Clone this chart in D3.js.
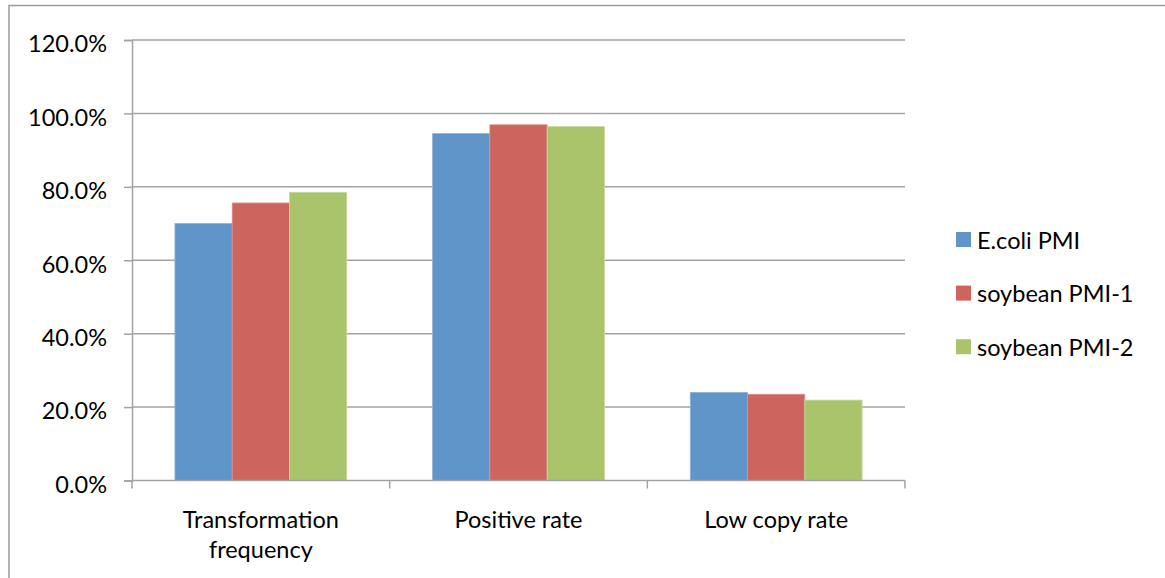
<!DOCTYPE html>
<html>
<head>
<meta charset="utf-8">
<script src="https://cdn.jsdelivr.net/npm/d3@7"></script>
<style>
  html, body { margin: 0; padding: 0; background: #fff; }
  svg { display: block; }
  text { font-family: Lato, "Open Sans", sans-serif; fill: #000; }
</style>
</head>
<body>
<svg id="chart" width="1165" height="578"></svg>
<script>
// Categories along the x axis (first one wraps onto two lines)
const categories = ["Transformation frequency", "Positive rate", "Low copy rate"];
const categoryLines = [["Transformation", "frequency"], ["Positive rate"], ["Low copy rate"]];

// Series names and their values (fractions, shown as percentages)
const seriesNames = ["E.coli PMI", "soybean PMI-1", "soybean PMI-2"];
const ecoliPMI = [0.700, 0.945, 0.240];
const soybeanPMI1 = [0.756, 0.969, 0.235];
const soybeanPMI2 = [0.785, 0.964, 0.219];
const seriesValues = [ecoliPMI, soybeanPMI1, soybeanPMI2];

// Y axis ticks
const yTicks = [0, 0.2, 0.4, 0.6, 0.8, 1.0, 1.2];

const colors = ["#5F95C8", "#CD645E", "#AAC46B"];
const strokes = ["#8DB3DA", "#DE928D", "#C6D99A"];
const fontSize = 23.5;

const svg = d3.select("#chart");

// Outer chart frame
svg.append("rect")
  .attr("x", 9).attr("y", 5.5)
  .attr("width", 1200).attr("height", 600)
  .attr("fill", "none").attr("stroke", "#9a9a9a").attr("stroke-width", 1.5);

const plot = { left: 132, right: 905, top: 40, bottom: 480.5 };

const y = d3.scaleLinear().domain([0, 1.2]).range([plot.bottom, plot.top]);
const x0 = d3.scaleBand().domain(categories).range([plot.left, plot.right]);
const bw = x0.bandwidth();
const gap = bw * 1.5 / 4.5;
const x1 = d3.scaleBand().domain(seriesNames).range([gap / 2, bw - gap / 2]);

const gridColor = "#a3a3a3";

// Horizontal gridlines
svg.append("g")
  .selectAll("line")
  .data(yTicks.filter(d => d > 0))
  .join("line")
  .attr("x1", plot.left).attr("x2", plot.right)
  .attr("y1", d => y(d)).attr("y2", d => y(d))
  .attr("stroke", gridColor).attr("stroke-width", 1.5);

// Bars
const groups = svg.append("g")
  .selectAll("g")
  .data(categories)
  .join("g")
  .attr("transform", d => `translate(${x0(d)},0)`);

groups.selectAll("rect")
  .data((c, ci) => seriesNames.map((s, si) => ({ s, si, v: seriesValues[si][ci] })))
  .join("rect")
  .attr("x", d => x1(d.s))
  .attr("width", x1.bandwidth())
  .attr("y", d => y(d.v))
  .attr("height", d => y(0) - y(d.v))
  .attr("fill", d => colors[d.si])
  .attr("stroke", d => strokes[d.si])
  .attr("stroke-width", 0.8);

// Y axis
const yAxis = d3.axisLeft(y)
  .tickValues(yTicks)
  .tickSize(8)
  .tickPadding(17)
  .tickFormat(d3.format(".1%"));

const yg = svg.append("g")
  .attr("transform", `translate(${plot.left},0)`)
  .call(yAxis);
yg.select(".domain").attr("stroke", gridColor).attr("stroke-width", 1.5);
yg.selectAll(".tick line").attr("stroke", gridColor).attr("stroke-width", 1.5);
yg.selectAll(".tick text")
  .attr("font-size", fontSize)
  .attr("font-family", "Lato, sans-serif")
  .attr("fill", "#000")
  .attr("dy", "0.5em");

// X axis: ticks at category boundaries
const xg = svg.append("g");
xg.append("line")
  .attr("x1", plot.left).attr("x2", plot.right)
  .attr("y1", plot.bottom).attr("y2", plot.bottom)
  .attr("stroke", gridColor).attr("stroke-width", 1.5);
const boundaries = categories.map(c => x0(c)).concat([x0(categories[categories.length - 1]) + bw]);
xg.selectAll("line.tk")
  .data(boundaries)
  .join("line")
  .attr("class", "tk")
  .attr("x1", d => d).attr("x2", d => d)
  .attr("y1", plot.bottom).attr("y2", plot.bottom + 8)
  .attr("stroke", gridColor).attr("stroke-width", 1.5);

// Category labels
const labels = svg.append("g")
  .selectAll("text")
  .data(categories)
  .join("text")
  .attr("x", d => x0(d) + bw / 2)
  .attr("y", 527.5)
  .attr("text-anchor", "middle")
  .attr("font-size", fontSize);
labels.each(function (d, i) {
  const t = d3.select(this);
  categoryLines[i].forEach((line, li) => {
    t.append("tspan")
      .attr("x", x0(d) + bw / 2)
      .attr("dy", li === 0 ? 0 : 30)
      .text(line);
  });
});

// Legend
const legend = svg.append("g")
  .selectAll("g")
  .data(seriesNames)
  .join("g")
  .attr("transform", (d, i) => `translate(956,${239.5 + i * 53.6})`);
legend.append("rect")
  .attr("x", 0).attr("y", -7.5)
  .attr("width", 15).attr("height", 15)
  .attr("fill", (d, i) => colors[i]);
legend.append("text")
  .attr("x", 21).attr("y", 9)
  .attr("font-size", fontSize)
  .text(d => d);
</script>
</body>
</html>
